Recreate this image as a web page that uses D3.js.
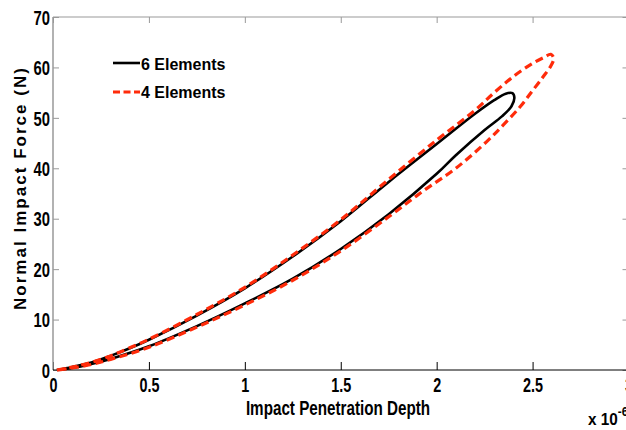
<!DOCTYPE html>
<html>
<head>
<meta charset="utf-8">
<script src="https://cdn.jsdelivr.net/npm/d3@7"></script>
<style>
  body { margin: 0; background: #fff; }
  text { font-family: "Liberation Sans", Arial, sans-serif; font-weight: bold; }
</style>
</head>
<body>
<svg id="chart" width="626" height="430"></svg>
<script>
// depth in units of 1e-6, force in N; each loop = loading branch, tip, unloading branch
const depth6 = [0.02, 0.1, 0.2, 0.3, 0.4, 0.5, 0.75, 1.0, 1.25, 1.5, 1.75, 2.0, 2.2, 2.3, 2.36, 2.395,
  2.405,
  2.39, 2.34, 2.25, 2.1, 2.0, 1.75, 1.5, 1.25, 1.0, 0.75, 0.5, 0.3, 0.2, 0.1, 0.02];
const force6 = [0, 0.6, 1.5, 2.8, 4.3, 6.0, 10.8, 16.2, 22.5, 29.5, 37.3, 44.8, 50.8, 53.5, 54.8, 54.9,
  54.0,
  52.3, 50.3, 47.6, 42.6, 38.9, 30.9, 24.0, 18.1, 13.2, 8.7, 4.7, 2.2, 1.2, 0.4, 0];

const depth4 = [0.02, 0.1, 0.2, 0.3, 0.4, 0.5, 0.75, 1.0, 1.25, 1.5, 1.75, 2.0, 2.2, 2.3, 2.4, 2.5, 2.56, 2.595,
  2.61,
  2.595, 2.556, 2.5, 2.435, 2.35, 2.261, 2.1, 1.93, 1.75, 1.5, 1.25, 1.0, 0.75, 0.5, 0.3, 0.2, 0.1, 0.02];
const force4 = [0, 0.6, 1.5, 2.8, 4.4, 6.1, 11.0, 16.4, 22.8, 29.8, 37.8, 45.6, 51.5, 55.0, 58.2, 60.8, 62.0, 62.6,
  61.8,
  60.3, 58.2, 55.4, 52.2, 48.7, 45.3, 40.0, 35.5, 30.4, 23.6, 17.8, 12.9, 8.5, 4.5, 2.1, 1.1, 0.4, 0];

const xTicks = [0, 0.5, 1, 1.5, 2, 2.5, 3];
const yTicks = [0, 10, 20, 30, 40, 50, 60, 70];
const seriesNames = ["6 Elements", "4 Elements"];

const svg = d3.select("#chart");
const mLeft = 53, mRight = 628.5, mTop = 17, mBottom = 370;

const x = d3.scaleLinear().domain([0, 3]).range([mLeft, mRight]);
const y = d3.scaleLinear().domain([0, 70]).range([mBottom, mTop]);

// squeeze text horizontally, the original font is a narrow one
function squeeze(sel, k) {
  sel.each(function() {
    const w = this.getComputedTextLength();
    d3.select(this).attr("textLength", w * k).attr("lengthAdjust", "spacingAndGlyphs");
  });
}

// x axis, ticks pointing inward
const xAxis = svg.append("g")
  .attr("transform", `translate(0,${mBottom})`)
  .call(d3.axisBottom(x).tickValues(xTicks).tickSize(-8).tickPadding(8).tickFormat(d => d));
xAxis.select(".domain").remove();
xAxis.selectAll("line").attr("stroke", "#000");
xAxis.selectAll("text").attr("font-size", 20).attr("fill", "#000").attr("font-family", null);
squeeze(xAxis.selectAll("text"), 0.72);

// top ticks
svg.append("g")
  .attr("transform", `translate(0,${mTop})`)
  .call(d3.axisTop(x).tickValues(xTicks).tickSize(-6).tickFormat(""))
  .call(g => g.select(".domain").remove())
  .selectAll("line").attr("stroke", "#999");

// y axis
const yAxis = svg.append("g")
  .attr("transform", `translate(${mLeft},0)`)
  .call(d3.axisLeft(y).tickValues(yTicks).tickSize(-6).tickPadding(3));
yAxis.select(".domain").remove();
yAxis.selectAll("line").attr("stroke", "#999");
yAxis.selectAll("text").attr("font-size", 20).attr("fill", "#000").attr("font-family", null).attr("dy", "0.36em");
squeeze(yAxis.selectAll("text"), 0.74);

// right ticks
svg.append("g")
  .attr("transform", `translate(${mRight},0)`)
  .call(d3.axisRight(y).tickValues(yTicks).tickSize(-6).tickFormat(""))
  .call(g => g.select(".domain").remove())
  .selectAll("line").attr("stroke", "#999");

// frame
svg.append("line").attr("x1", mLeft).attr("x2", mRight).attr("y1", mTop).attr("y2", mTop).attr("stroke", "#999");
svg.append("line").attr("x1", mLeft).attr("x2", mLeft).attr("y1", mTop).attr("y2", mBottom).attr("stroke", "#999").attr("stroke-width", 1.5);
svg.append("line").attr("x1", mLeft).attr("x2", mRight).attr("y1", mBottom).attr("y2", mBottom).attr("stroke", "#000");

// curves
const line = d3.line()
  .x(d => x(d[0]))
  .y(d => y(d[1]))
  .curve(d3.curveCatmullRom.alpha(0.5));

const pts6 = depth6.map((d, i) => [d, force6[i]]);
const pts4 = depth4.map((d, i) => [d, force4[i]]);

svg.append("path")
  .datum(pts6)
  .attr("d", line)
  .attr("fill", "none")
  .attr("stroke", "#000")
  .attr("stroke-width", 2.6);

svg.append("path")
  .datum(pts4)
  .attr("d", line)
  .attr("fill", "none")
  .attr("stroke", "#ff2b0a")
  .attr("stroke-width", 3.2)
  .attr("stroke-dasharray", "8,4.5");

// legend
const legend = svg.append("g");
legend.append("line").attr("x1", 113).attr("x2", 140).attr("y1", 63).attr("y2", 63)
  .attr("stroke", "#000").attr("stroke-width", 2.6);
legend.append("line").attr("x1", 113).attr("x2", 140).attr("y1", 92).attr("y2", 92)
  .attr("stroke", "#ff2b0a").attr("stroke-width", 3.2).attr("stroke-dasharray", "7,3.5");
legend.selectAll("text")
  .data(seriesNames)
  .join("text")
  .attr("x", 141)
  .attr("y", (d, i) => 70 + i * 28)
  .attr("font-size", 16)
  .text(d => d);

// axis titles
const xt = svg.append("text")
  .attr("x", 338).attr("y", 415)
  .attr("text-anchor", "middle")
  .attr("font-size", 19.5)
  .text("Impact Penetration Depth");
squeeze(xt, 0.78);

svg.append("text")
  .attr("transform", "translate(26,189) rotate(-90)")
  .attr("text-anchor", "middle")
  .attr("font-size", 17)
  .attr("textLength", 242)
  .attr("lengthAdjust", "spacing")
  .text("Normal Impact Force (N)");

const mult = svg.append("text")
  .attr("x", 588).attr("y", 425)
  .attr("font-size", 17);
mult.append("tspan").text("x 10");
mult.append("tspan").attr("dy", -9).attr("font-size", 13).text("-6");
squeeze(mult, 0.9);
</script>
</body>
</html>
